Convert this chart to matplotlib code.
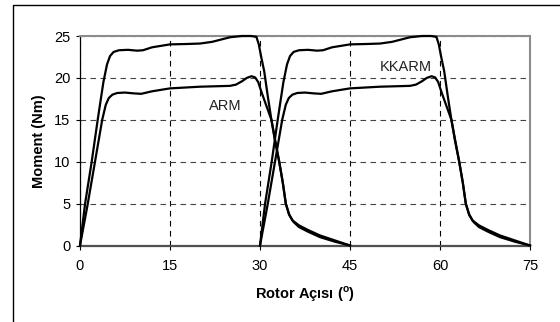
import numpy as np
import matplotlib
matplotlib.use('Agg')
import matplotlib.pyplot as plt
from matplotlib.lines import Line2D

plt.rcParams['font.family'] = ['Liberation Sans', 'DejaVu Sans']

# torque over one phase conduction period (rotor angle in degrees)
kkarm_angle = [0, 0.85, 1.95, 2.95, 3.9, 4.5, 5.0, 5.6, 6.5, 8, 9.5, 10.5, 12, 15, 18, 20,
               22, 25, 27, 28.5, 29.4, 29.8, 30.2, 30.7, 31.3, 31.9, 32.6, 33.2, 33.8,
               34.3, 34.8, 35.4, 36.5, 38, 40, 42.5, 45]
kkarm_torque = [0, 5, 10, 15, 19.5, 21.6, 22.6, 23.1, 23.3, 23.35, 23.25, 23.3, 23.65, 24.0,
                24.05, 24.1, 24.3, 24.85, 25.0, 25.0, 24.9, 24.0, 22.5, 20.8, 17.8, 15.0,
                12.3, 10.0, 7.5, 5.0, 3.8, 3.0, 2.4, 1.85, 1.2, 0.6, 0]

arm_angle = [0, 1.3, 2.5, 3.7, 4.3, 4.8, 5.4, 6.2, 7.5, 9, 10.2, 12, 15, 20, 25, 26, 27,
             27.8, 28.6, 29.2, 29.7, 30.3, 31.0, 31.9, 32.5, 33.2, 33.8, 34.3, 34.9, 35.6,
             36.5, 38, 40, 42.5, 45]
arm_torque = [0, 5, 10, 15, 16.8, 17.6, 18.0, 18.2, 18.25, 18.15, 18.1, 18.4, 18.75, 18.95,
              19.05, 19.2, 19.6, 20.0, 20.2, 20.05, 19.5, 18.2, 16.8, 15.0, 12.5, 10, 7.5,
              5.0, 3.6, 2.8, 2.2, 1.65, 1.0, 0.45, 0]

phase_shift = [0, 30]   # second phase starts 30 degrees later

xticks = [0, 15, 30, 45, 60, 75]
yticks = [0, 5, 10, 15, 20, 25]

fig = plt.figure(figsize=(5.6, 3.22), dpi=100)
ax = fig.add_axes([80/560, 76.5/322, 450/560, 209.5/322])

for s in phase_shift:
    ax.plot(np.array(kkarm_angle) + s, kkarm_torque, color='black', lw=1.6, zorder=3,
            clip_on=False, solid_joinstyle='round')
    ax.plot(np.array(arm_angle) + s, arm_torque, color='black', lw=1.6, zorder=3,
            clip_on=False, solid_joinstyle='round')

ax.set_xlim(0, 75)
ax.set_ylim(0, 25)
ax.set_xticks(xticks)
ax.set_yticks(yticks)

ax.xaxis.grid(True, color='black', lw=0.8, linestyle=(0, (5, 4)))
ax.yaxis.grid(True, color='#444444', lw=0.8, linestyle=(0, (5, 4)))
ax.set_axisbelow(True)

ax.spines['left'].set_color('black')
ax.spines['left'].set_linewidth(0.9)
ax.spines['bottom'].set_color('#505050')
ax.spines['bottom'].set_linewidth(1.6)
for side in ['top', 'right']:
    ax.spines[side].set_color('#8c8c8c')
    ax.spines[side].set_linewidth(1.5)

ax.tick_params(axis='x', direction='out', length=3, width=0.8, pad=7, labelsize=10.5)
ax.tick_params(axis='y', direction='out', length=3, width=0.8, pad=4, labelsize=10.5)

ax.set_xlabel(r'Rotor Açısı ($^{\mathregular{o}}$)', fontsize=10.5, fontweight='bold', labelpad=8)
ax.set_ylabel('Moment (Nm)', fontsize=10.5, fontweight='bold', labelpad=6)

ax.text(24.2, 16.65, 'ARM', ha='center', va='center', fontsize=10.5, color='#222222')
ax.text(54.3, 21.3, 'KKARM', ha='center', va='center', fontsize=10.5, color='#222222')

# outer frame
fig.add_artist(Line2D([12.5/560, 12.5/560, 1], [0, 1 - 4.5/322, 1 - 4.5/322],
                      transform=fig.transFigure, color='black', lw=1.0))

fig.savefig('out.png', dpi=100)
